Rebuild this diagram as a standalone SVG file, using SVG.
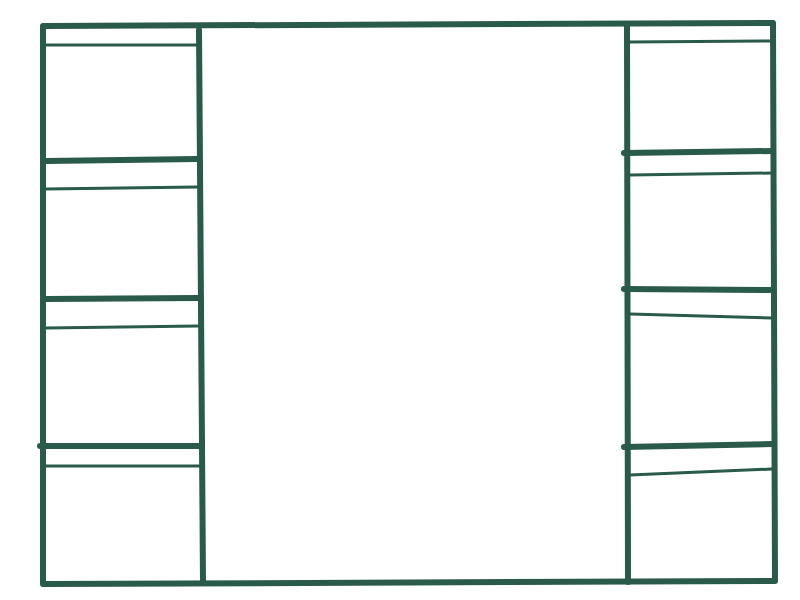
<svg xmlns="http://www.w3.org/2000/svg" width="800" height="600" viewBox="0 0 800 600">
<style>
.k{stroke:#2a5a4a;fill:none;stroke-linecap:round;stroke-linejoin:round}
.w{stroke-width:6}
.t{stroke-width:3}
</style>
<rect width="800" height="600" fill="#fff"/>
<g id="frame">
<path class="k w" d="M43,584 L43,26 L773,23 L775,581 L43,584"/>
</g>
<g id="left-column">
<path class="k w" d="M199,30 L203,582"/>
<path class="k t" d="M46,45 L196,45"/>
<path class="k w" d="M46,161 L197,159"/>
<path class="k t" d="M46,189 L197,187"/>
<path class="k w" d="M46,299 L198,298"/>
<path class="k t" d="M46,328 L198,326"/>
<path class="k w" d="M40,446 L199,446"/>
<path class="k t" d="M46,466 L199,466"/>
</g>
<g id="right-column">
<path class="k w" d="M627,26 L628,582"/>
<path class="k t" d="M630,42 L772,41"/>
<path class="k w" d="M624,153 L772,151"/>
<path class="k t" d="M630,175 L772,173"/>
<path class="k w" d="M624,289 L772,290"/>
<path class="k t" d="M630,314 L772,318"/>
<path class="k w" d="M624,447 L772,444"/>
<path class="k t" d="M630,475 L772,469"/>
</g>
</svg>
